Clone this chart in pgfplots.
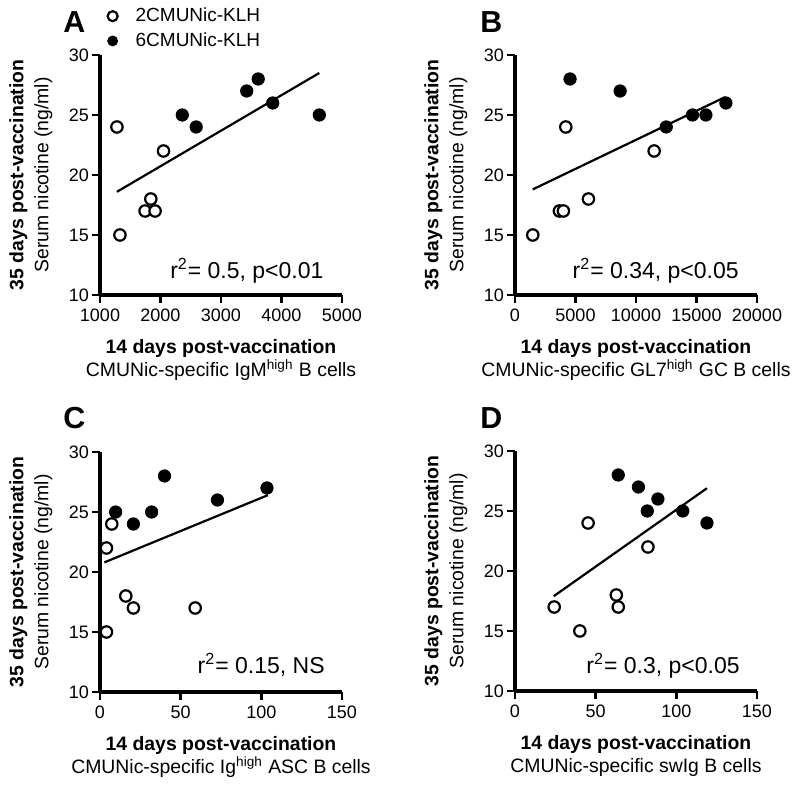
\documentclass[border=0pt]{standalone}
\usepackage{pgfplots}
\pgfplotsset{compat=1.18}
\usepackage{fontspec}
\setmainfont{Liberation Sans}
\begin{document}
\begin{tikzpicture}
\pgfplotsset{
  panel/.style={
    scale only axis, width=121pt, height=120pt,
    axis x line*=bottom, axis y line*=left,
    axis line style={line width=1.6pt, -},
    every tick/.style={line width=1.35pt, black},
    tick align=outside, major tick length=3.8pt,
    ymin=10, ymax=30, ytick={10,15,20,25,30},
    scaled ticks=false, clip=false,
    /pgf/number format/assume math mode=true,
    /pgf/number format/set thousands separator={},
    tick label style={font=\fontsize{9}{10.5}\selectfont},
    xticklabel style={inner sep=3.2pt},
    yticklabel style={inner sep=1.5pt},
    xlabel style={at={(axis description cs:0.5,-0.183)}, anchor=north, inner sep=0pt, align=center, font=\fontsize{9.7}{11.6}\selectfont},
    ylabel style={at={(axis description cs:-0.376,0.5)}, anchor=north, inner sep=0pt, align=center, font=\fontsize{9.7}{12.4}\selectfont},
    ylabel={\textbf{35 days post-vaccination}\\Serum nicotine (ng/ml)},
  },
  openm/.style={only marks, mark=*, mark size=2.85pt, mark options={fill=white, draw=black, line width=1.1pt}},
  fillm/.style={only marks, mark=*, mark size=3.1pt, mark options={fill=black, draw=black, line width=0.4pt}},
  regl/.style={no marks, black, line width=1.1pt, forget plot},
}
\tikzset{rtext/.style={anchor=base east, font=\fontsize{11.5}{13}\selectfont, inner sep=0pt}}
\path[use as bounding box] (0,0) rectangle (400pt,393pt);

% Panel A
\begin{axis}[panel, at={(50pt,245.5pt)}, anchor=south west,
  xmin=1000, xmax=5000, xtick={1000,2000,3000,4000,5000},
  xlabel={\textbf{14 days post-vaccination}\\CMUNic-specific IgM\textsuperscript{high} B cells},
  legend style={at={(axis description cs:0.03,1.215)}, anchor=north west, draw=none, fill=none,
    font=\fontsize{9.5}{11.2}\selectfont, inner sep=0pt, row sep=0pt, column sep=7pt},
  legend cell align=left,
  legend image code/.code={\draw[#1, mark size=2.5pt] plot coordinates {(0pt,0pt)};},
]
\addplot[openm] coordinates {(1280,24) (1330,15) (2050,22) (1840,18) (1745,17) (1910,17)};
\addlegendentry{2CMUNic-KLH}
\addplot[fillm] coordinates {(2360,25) (2590,24) (3425,27) (3615,28) (3855,26) (4625,25)};
\addlegendentry{6CMUNic-KLH}
\addplot[regl] coordinates {(1280,18.6) (4625,28.5)};
\node[rtext] at (axis description cs:0.925,0.07) {r\textsuperscript{2}= 0.5, p<0.01};
\end{axis}

% Panel B
\begin{axis}[panel, at={(257.5pt,245.5pt)}, anchor=south west,
  xmin=0, xmax=20000, xtick={0,5000,10000,15000,20000},
  xlabel={\textbf{14 days post-vaccination}\\CMUNic-specific GL7\textsuperscript{high} GC B cells},
]
\addplot[openm] coordinates {(1470,15) (3670,17) (4000,17) (4200,24) (6070,18) (11500,22)};
\addplot[fillm] coordinates {(4550,28) (8690,27) (12500,24) (14670,25) (15780,25) (17430,26)};
\addplot[regl] coordinates {(1470,18.8) (17380,26.5)};
\node[rtext] at (axis description cs:0.926,0.07) {r\textsuperscript{2}= 0.34, p<0.05};
\end{axis}

% Panel C
\begin{axis}[panel, at={(50pt,47pt)}, anchor=south west,
  xmin=0, xmax=150, xtick={0,50,100,150},
  xlabel={\textbf{14 days post-vaccination}\\CMUNic-specific Ig\textsuperscript{high} ASC B cells},
]
\addplot[openm] coordinates {(4,15) (4,22) (7.3,24) (16,18) (20.7,17) (59,17)};
\addplot[fillm] coordinates {(9.7,25) (20.7,24) (32,25) (40,28) (72.8,26) (103.5,27)};
\addplot[regl] coordinates {(2.7,20.8) (104,26.4)};
\node[rtext] at (axis description cs:0.93,0.078) {r\textsuperscript{2}= 0.15, NS};
\end{axis}

% Panel D
\begin{axis}[panel, at={(257.5pt,47.5pt)}, anchor=south west,
  xmin=0, xmax=150, xtick={0,50,100,150},
  xlabel={\textbf{14 days post-vaccination}\\CMUNic-specific swIg B cells},
]
\addplot[openm] coordinates {(24.3,17) (40.2,15) (45.3,24) (62.8,18) (64,17) (82.4,22)};
\addplot[fillm] coordinates {(64,28) (76.5,27) (82,25) (88.6,26) (104,25) (119,24)};
\addplot[regl] coordinates {(24,17.9) (119,26.9)};
\node[rtext] at (axis description cs:0.93,0.074) {r\textsuperscript{2}= 0.3, p<0.05};
\end{axis}

\node[anchor=base west, inner sep=0pt, font=\bfseries\fontsize{15.2}{18}\selectfont] at (31.5pt,376.5pt) {A};
\node[anchor=base west, inner sep=0pt, font=\bfseries\fontsize{15.2}{18}\selectfont] at (240pt,376.5pt) {B};
\node[anchor=base west, inner sep=0pt, font=\bfseries\fontsize{15.2}{18}\selectfont] at (31.5pt,178.5pt) {C};
\node[anchor=base west, inner sep=0pt, font=\bfseries\fontsize{15.2}{18}\selectfont] at (240pt,178.5pt) {D};
\end{tikzpicture}
\end{document}
